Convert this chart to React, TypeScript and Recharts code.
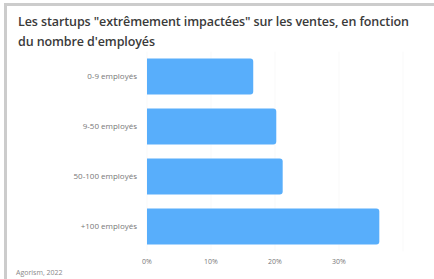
import React from "react";
import { BarChart, Bar, XAxis, YAxis, CartesianGrid } from "recharts";

const categories = ["0-9 employés", "9-50 employés", "50-100 employés", "+100 employés"];
const values = [16.6, 20.2, 21.2, 36.3];
const xTicks = [0, 10, 20, 30];

const data = categories.map((c, i) => ({ name: c, value: values[i] }));

const font = "'Open Sans', 'DejaVu Sans', sans-serif";

export default function App() {
  return (
    <div style={{ position: "absolute", left: 0, top: 0, width: 434, height: 279, background: "#fff", overflow: "hidden", fontFamily: font }}>
      <div style={{ position: "absolute", left: 18, top: 12, width: 398, fontSize: 12.5, fontWeight: 600, color: "#3a3a3a", lineHeight: "20px", letterSpacing: -0.1 }}>
        Les startups "extrêmement impactées" sur les ventes, en fonction du nombre d'employés
      </div>
      <div style={{ position: "absolute", left: 16, top: 268, fontSize: 7, color: "#888" }}>Agorism, 2022</div>
      <div style={{ position: "absolute", left: 0, top: 0 }}>
        <BarChart
          width={434}
          height={279}
          data={data}
          layout="vertical"
          margin={{ top: 51.5, right: 31, bottom: 0, left: 0 }}
          barCategoryGap="14%"
        >
          <CartesianGrid horizontal={false} stroke="#f9f9f9" />
          <XAxis
            type="number"
            domain={[0, 40]}
            ticks={xTicks}
            tickFormatter={(v: number) => `${v}%`}
            axisLine={false}
            tickLine={false}
            height={27.5}
            tick={{ fontSize: 7, fill: "#777", fontFamily: font }}
          />
          <YAxis
            type="category"
            dataKey="name"
            width={147}
            axisLine={false}
            tickLine={false}
            tickMargin={4}
            tick={{ fontSize: 8, fill: "#777", fontFamily: font }}
          />
          <Bar dataKey="value" fill="#58aefb" radius={[0, 3, 3, 0]} isAnimationActive={false} />
        </BarChart>
      </div>
      <div style={{ position: "absolute", left: 4, top: 3, width: 440, height: 3, background: "#cccccc", zIndex: 5 }} />
      <div style={{ position: "absolute", left: 4, top: 3, width: 3, height: 290, background: "#cccccc", zIndex: 5 }} />
    </div>
  );
}
